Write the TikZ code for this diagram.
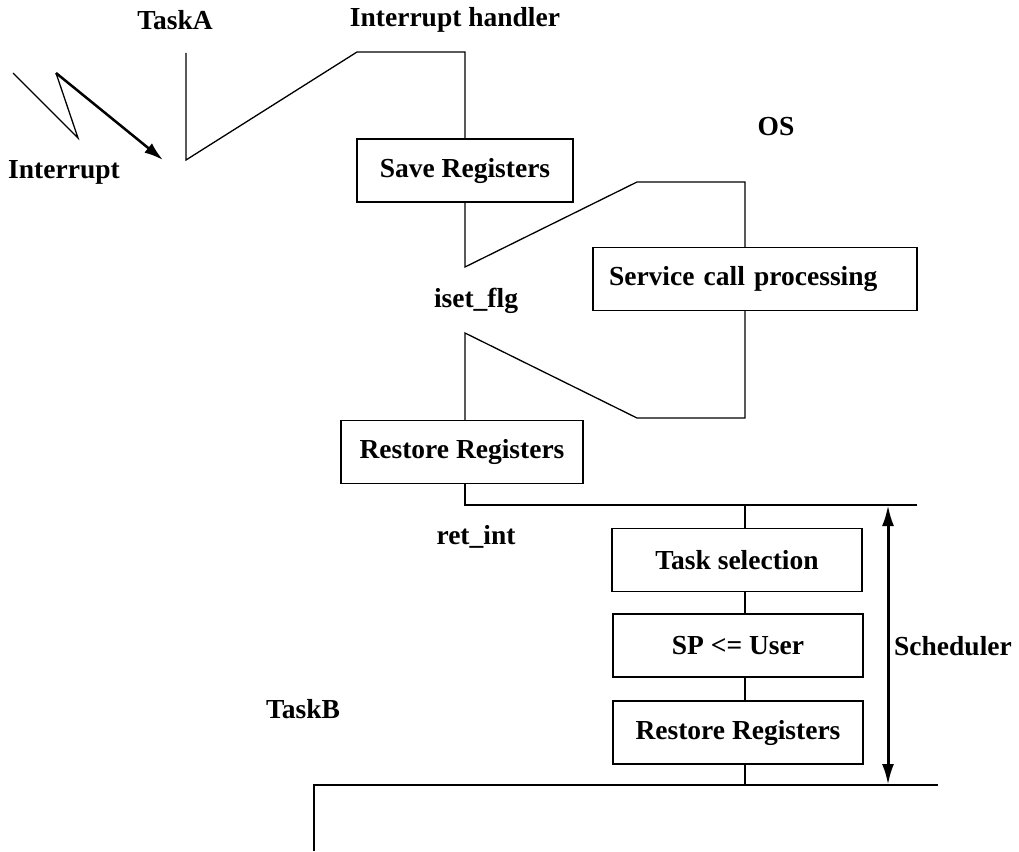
\documentclass[tikz,border=0pt]{standalone}
\usepackage{fontspec}
\setmainfont{Liberation Serif}
\usetikzlibrary{arrows.meta}
\newcommand{\diagfont}{\bfseries\fontsize{27.5}{32}\selectfont}
\newcommand{\procbox}[4]{%
 \node[procstep, minimum width=#3] ({#1}) at ({#2}) {#4};%
}
\tikzset{
 procstep/.style={draw, line width=1.3pt, minimum height=63pt, inner sep=0pt},
 flow/.style={line width=1.3pt},
}

\begin{document}
\begin{tikzpicture}[x=1pt, y=-1pt, every node/.style={font=\diagfont}]
   \useasboundingbox (0,0) rectangle (1019,851);
   % labels
   \node (taskA) at (175,20) {TaskA};
   \node (handler) at (455,20) {Interrupt handler};
   \node (irq) at (64,172) {Interrupt};
   \node (os) at (776,127) {OS};
   \node (iset) at (476,301) {iset\_flg};
   \node (retint) at (476,537) {ret\_int};
   \node (taskB) at (303,709) {TaskB};
   \node (sched) at (953,646) {Scheduler};
   % boxes
   \procbox{save}{465,170.5}{216pt}{Save Registers};
   \node[procstep, minimum width=324pt, text width=292pt, inner xsep=16pt, align=left] (svc) at (755,279) {Service call processing};
   \procbox{rest1}{462,452}{242pt}{Restore Registers};
   \procbox{tsel}{737,560}{250pt}{Task selection};
   \procbox{sp}{738,645.5}{250pt}{SP <= User};
   \procbox{rest2}{738,732.5}{250pt}{Restore Registers};
   % corner points
   \coordinate (a0) at (186,53);
   \coordinate (a1) at (186,160);
   \coordinate (h0) at (357,52);
   \coordinate (h1) at (465,52);
   \coordinate (i0) at (465,267);
   \coordinate (o0) at (637,182);
   \coordinate (o1) at (745,182);
   \coordinate (o2) at (745,418);
   \coordinate (o3) at (637,418);
   \coordinate (i1) at (465,333);
   \coordinate (r0) at (465,505);
   \coordinate (r1) at (917,505);
   \coordinate (s0) at (745,505);
   \coordinate (s1) at (745,785);
   \coordinate (b0) at (314,851);
   \coordinate (b1) at (314,785);
   \coordinate (b2) at (938,785);
   \coordinate (d0) at (888,505);
   \coordinate (d1) at (888,785);
   \coordinate (z0) at (13,73);
   \coordinate (z1) at (78,138);
   \coordinate (z2) at (56,73);
   \coordinate (z3) at (163,160);
   % task A -> handler -> OS -> back
   \draw[flow] (a0) -- (a1) -- (h0) -- (h1) -- (save.north);
   \draw[flow] (save.south) -- (i0) -- (o0) -- (o1) -- (svc.north -| o1);
   \draw[flow] (svc.south -| o1) -- (o2) -- (o3) -- (i1) -- (rest1.north -| i1);
   \draw[flow] (rest1.south -| i1) -- (r0) -- (r1);
   % scheduler
   \draw[flow] (s0) -- (tsel.north -| s0);
   \draw[flow] (tsel.south -| s0) -- (sp.north -| s0);
   \draw[flow] (sp.south -| s0) -- (rest2.north -| s0);
   \draw[flow] (rest2.south -| s0) -- (s1);
   \draw[flow] (b0) -- (b1) -- (b2);
   \draw[line width=3pt, {Latex[length=21pt,width=12pt]}-{Latex[length=21pt,width=12pt]}] (d0) -- (d1);
   % interrupt
   \draw[flow] (z0) -- (z1) -- (z2);
   \draw[line width=2.5pt, -{Latex[length=19pt,width=12pt]}] (z2) -- (z3);
  \end{tikzpicture}
\end{document}
